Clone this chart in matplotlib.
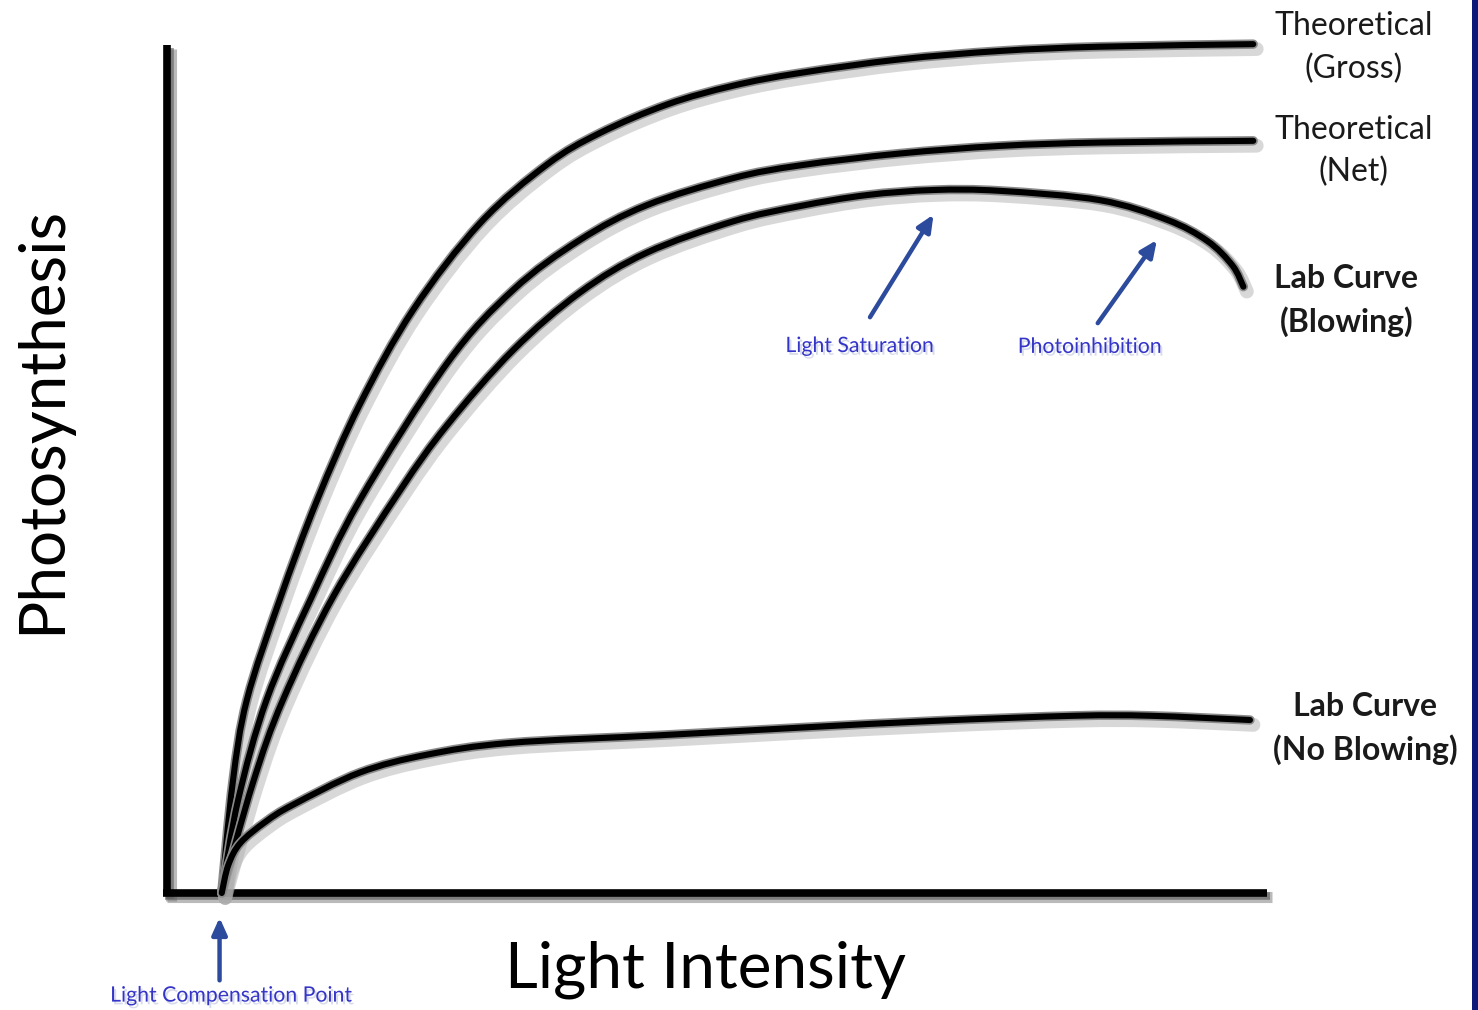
import matplotlib
matplotlib.use("Agg")
import matplotlib.pyplot as plt
import matplotlib.patheffects as pe
from matplotlib.patches import Rectangle, PathPatch
from matplotlib.path import Path
import numpy as np

plt.rcParams['font.family'] = ['Lato', 'DejaVu Sans']

# ---- data (light intensity, photosynthesis), arbitrary units ----
gross_x = [5.0, 6.0, 7.3, 10.3, 13.7, 17.6, 22.5, 28.6, 34.7, 39.5, 45.7, 51.7, 57.8, 66.9, 76.1, 85.2, 99.2]
gross_y = [0.0, 13.0, 22.8, 34.6, 46.3, 57.6, 68.8, 79.0, 85.9, 89.6, 93.0, 95.2, 96.7, 98.3, 99.3, 99.8, 100.1]

net_x = [5.0, 6.5, 9.1, 13.1, 17.6, 25.6, 31.6, 37.7, 43.8, 51.7, 57.8, 66.9, 76.1, 85.2, 99.2]
net_y = [0.0, 11.0, 22.8, 34.6, 46.3, 62.5, 71.1, 77.0, 81.1, 84.3, 85.8, 87.2, 88.1, 88.5, 88.7]

blow_x = [5.0, 7.85, 10.6, 15.2, 21.3, 25.6, 31.6, 37.7, 43.8, 51.7, 57.8, 63.9, 70.0, 76.1, 85.2, 91.3, 95.0, 97.3, 98.3]
blow_y = [0.0, 13.0, 22.8, 35.0, 47.5, 55.2, 64.0, 70.8, 75.5, 79.2, 81.0, 82.3, 82.9, 82.8, 81.7, 79.4, 76.9, 74.0, 71.5]

noblow_x = [5.0, 5.6, 6.7, 9.0, 11.5, 17.6, 23.7, 31.3, 45.0, 57.8, 70.1, 82.9, 89.8, 98.9]
noblow_y = [0.0, 3.3, 5.9, 8.4, 10.4, 14.2, 16.3, 17.7, 18.6, 19.5, 20.3, 20.9, 20.9, 20.4]

curve_labels = ["Theoretical\n(Gross)", "Theoretical\n(Net)", "Lab Curve\n(Blowing)", "Lab Curve\n(No Blowing)"]
label_pos = [(108.4, 99.7), (108.4, 87.5), (107.7, 69.9), (109.4, 19.4)]
label_bold = [False, False, True, True]

# annotations: (text, text xy, arrow tail, arrow tip)
notes = [
    ("Light Saturation", (63.3, 64.5), (64.2, 67.9), (70.0, 80.0)),
    ("Photoinhibition", (84.3, 64.4), (85.0, 67.2), (90.4, 77.0)),
    ("Light Compensation Point", (5.9, -12.1), (4.8, -10.3), (4.8, -2.9)),
]


def smooth_path(xs, ys):
    """Catmull-Rom curve through the read points, drawn as cubic Bezier segments."""
    p = np.column_stack([xs, ys]).astype(float)
    n = len(p)
    verts = [p[0]]
    codes = [Path.MOVETO]
    for i in range(n - 1):
        p0 = p[i - 1] if i > 0 else p[i]
        p1, p2 = p[i], p[i + 1]
        p3 = p[i + 2] if i + 2 < n else p[i + 1]
        c1 = p1 + (p2 - p0) / 6.0
        c2 = p2 - (p3 - p1) / 6.0
        verts += [c1, c2, p2]
        codes += [Path.CURVE4] * 3
    return Path(np.array(verts), codes)


# ---- figure ----
W, H = 1478, 1010
fig = plt.figure(figsize=(W / 100, H / 100), dpi=100)
fig.patch.set_facecolor("white")
ax = fig.add_axes([167 / W, (H - 893) / H, 1095 / W, 848 / H])
ax.set_xlim(0, 100)
ax.set_ylim(0, 100)
ax.set_xticks([])
ax.set_yticks([])
ax.patch.set_alpha(0)

for s in ["top", "right"]:
    ax.spines[s].set_visible(False)
ax.spines["left"].set_bounds(-0.4, 100)
ax.spines["bottom"].set_bounds(-0.4, 100.5)
for s in ["left", "bottom"]:
    ax.spines[s].set_linewidth(5.5)
    ax.spines[s].set_color("black")
    ax.spines[s].set_capstyle("butt")
    ax.spines[s].set_path_effects([
        pe.SimpleLineShadow(offset=(3, -3), shadow_color="#777777", alpha=0.5, linewidth=8),
        pe.SimpleLineShadow(offset=(2, -2), shadow_color="#555555", alpha=0.6),
        pe.Normal()])

line_fx = [
    pe.SimpleLineShadow(offset=(2.5, -3.5), shadow_color="#aaaaaa", alpha=0.45, linewidth=10),
    pe.Stroke(linewidth=6.8, foreground="#8a8a8a"),
    pe.Stroke(linewidth=4.4, foreground="black"),
]
for xs, ys in [(gross_x, gross_y), (net_x, net_y), (blow_x, blow_y), (noblow_x, noblow_y)]:
    patch = PathPatch(smooth_path(xs, ys), fill=False, edgecolor="black", lw=4.4,
                      capstyle="round", joinstyle="round", clip_on=False, zorder=3)
    patch.set_path_effects(line_fx)
    ax.add_patch(patch)

for txt, (x, y), b in zip(curve_labels, label_pos, label_bold):
    ax.text(x, y, txt, ha="center", va="center", fontsize=23, color="#1a1a1a",
            fontweight="bold" if b else "normal", linespacing=1.5, clip_on=False)

text_fx = [pe.SimplePatchShadow(offset=(1.5, -2), shadow_rgbFace="#8f9cc8", alpha=0.35), pe.Normal()]
for txt, txy, tail, tip in notes:
    ax.annotate("", xy=tip, xytext=tail, xycoords="data", textcoords="data",
                arrowprops=dict(arrowstyle="-|>,head_length=1.0,head_width=0.45", color="#2d4b9c",
                                lw=3.2, shrinkA=0, shrinkB=0), annotation_clip=False)
    ax.text(txy[0], txy[1], txt, ha="center", va="center", fontsize=15.3, color="#3434c8",
            clip_on=False, path_effects=text_fx)

ax.text(49.2, -9.1, "Light Intensity", ha="center", va="center", fontsize=46, color="black",
        clip_on=False)
ax.text(-11.4, 55.8, "Photosynthesis", ha="center", va="center", fontsize=46, color="black",
        rotation=90, clip_on=False)

# right navy border
fig.patches.append(Rectangle((1472 / W, 0), 6 / W, 1, transform=fig.transFigure,
                             facecolor="#0b1a78", edgecolor="none", zorder=10))

fig.savefig("out.png", dpi=100, facecolor="white")
